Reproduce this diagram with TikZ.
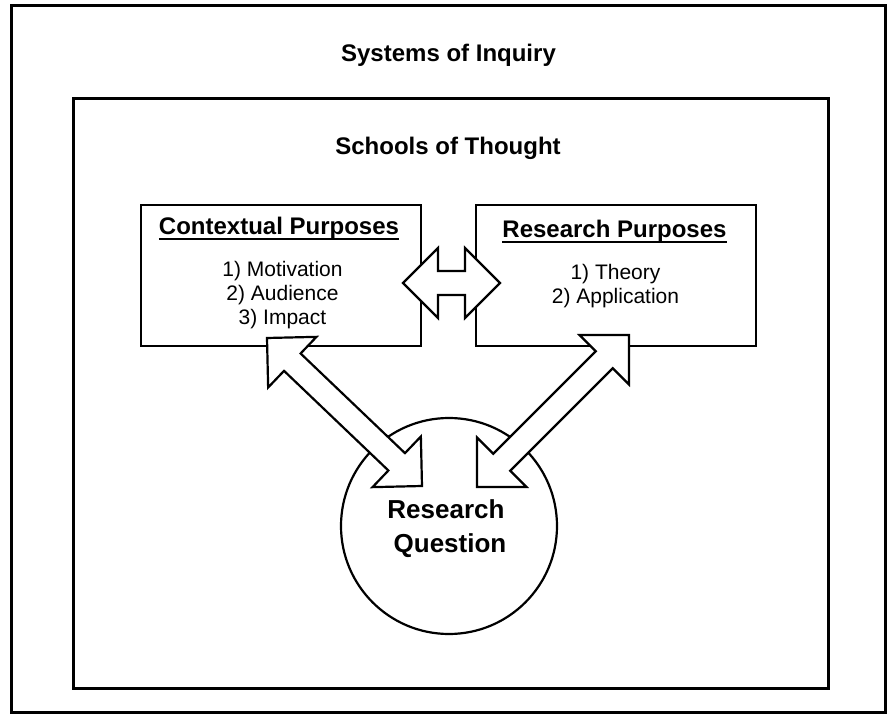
\documentclass[tikz,border=0pt]{standalone}
\usepackage{fontspec}
\setmainfont{Liberation Sans}
\usetikzlibrary{calc}
\newcommand\faL{35pt}
\newcommand\faW{35pt}
\newcommand\faS{12pt}
\newcommand\fatarrow[2]{%
  \draw[fatarr]
    (#1)
    -- ($($(#1)!\faL!(#2)$)!\faW!90:(#2)$)
    -- ($($(#1)!\faL!(#2)$)!\faS!90:(#2)$)
    -- ($($(#2)!\faL!(#1)$)!\faS!-90:(#1)$)
    -- ($($(#2)!\faL!(#1)$)!\faW!-90:(#1)$)
    -- (#2)
    -- ($($(#2)!\faL!(#1)$)!\faW!90:(#1)$)
    -- ($($(#2)!\faL!(#1)$)!\faS!90:(#1)$)
    -- ($($(#1)!\faL!(#2)$)!\faS!-90:(#2)$)
    -- ($($(#1)!\faL!(#2)$)!\faW!-90:(#2)$)
    -- cycle;}
\begin{document}
\begin{tikzpicture}[x=1pt,y=-1pt,
  frame/.style={draw, line width=3pt, inner sep=0pt, outer sep=0pt},
  pbox/.style={draw, line width=2.5pt, inner sep=0pt, outer sep=0pt, minimum width=280pt, minimum height=141pt},
  rq/.style={draw, circle, line width=2.2pt, minimum size=216pt, inner sep=0pt},
  fatarr/.style={draw, fill=white, line width=2.2pt, line join=miter},
  title/.style={font=\bfseries\fontsize{24}{28}\selectfont, inner sep=0pt, anchor=base},
  item/.style={font=\fontsize{21}{24}\selectfont, inner sep=0pt, anchor=base},
  big/.style={font=\bfseries\fontsize{26}{30}\selectfont, inner sep=0pt, anchor=base},
  uline/.style={line width=1.6pt}
]
\useasboundingbox (0,0) rectangle (887,714);
\fill[white] (0,0) rectangle (887,714);

% frames
\node[frame, minimum width=874.5pt, minimum height=706pt] (sys) at (448.25,359) {};
\node[frame, minimum width=755pt, minimum height=589pt] (sch) at (450.5,393.5) {};

\node[title] (systxt) at (448.5,62) {Systems of Inquiry};
\node[title] (schtxt) at (448,155) {Schools of Thought};

% purpose boxes
\node[pbox] (cp) at (281,275.5) {};
\node[pbox] (rp) at (616,275.5) {};

\node[title] (cptitle) at (279,234.5) {Contextual Purposes};
\draw[uline] ([yshift=-4.5pt]cptitle.base west) -- ([yshift=-4.5pt]cptitle.base east);
\node[item] (cp1) at (282.5,277) {1) Motivation};
\node[item] (cp2) at (282.5,301) {2) Audience};
\node[item] (cp3) at (282.5,325) {3) Impact};

\node[title] (rptitle) at (614.5,237.5) {Research Purposes};
\draw[uline] ([yshift=-4.5pt]rptitle.base west) -- ([yshift=-4.5pt]rptitle.base east);
\node[item] (rp1) at (615.5,280) {1) Theory};
\node[item] (rp2) at (615.5,304) {2) Application};

% research question
\node[rq] (q) at (449,526) {};
\node[big] (qt1) at (446,518) {Research};
\node[big] (qt2) at (450,552) {Question};

% arrow end points
\coordinate (h1) at (403,283);
\coordinate (h2) at (500,283);
\coordinate (l1) at (267,338);
\coordinate (l2) at (422,486);
\coordinate (r1) at (629,335);
\coordinate (r2) at (477,487);

\fatarrow{h1}{h2}
\fatarrow{l1}{l2}
\fatarrow{r1}{r2}
\end{tikzpicture}
\end{document}
